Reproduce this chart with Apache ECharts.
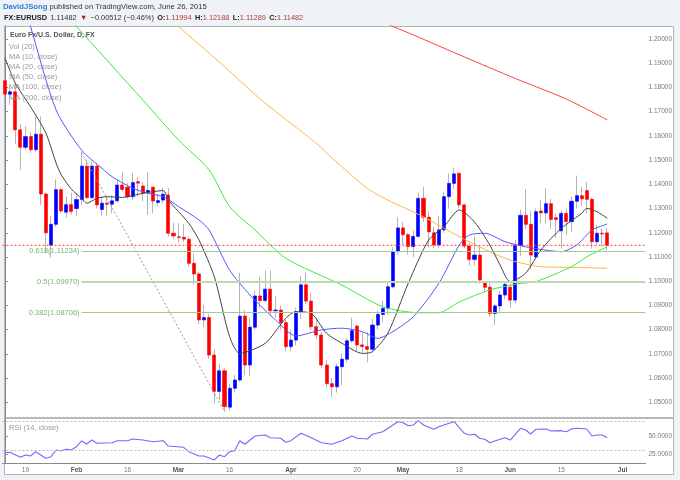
<!DOCTYPE html>
<html><head><meta charset="utf-8">
<script src="https://cdn.jsdelivr.net/npm/echarts@6/dist/echarts.min.js"></script>
<style>html,body{margin:0;padding:0;background:#eff2f6}#c{width:680px;height:480px}</style>
</head><body><div id="c"></div>
<script>
// ---- categories (trading days) ----
const dates = [
 'Jan 13','Jan 14','Jan 15','Jan 16','Jan 19','Jan 20','Jan 21','Jan 22','Jan 23','Jan 26','Jan 27','Jan 28','Jan 29','Jan 30',
 'Feb 2','Feb 3','Feb 4','Feb 5','Feb 6','Feb 9','Feb 10','Feb 11','Feb 12','Feb 13','Feb 16','Feb 17','Feb 18','Feb 19','Feb 20','Feb 23','Feb 24','Feb 25','Feb 26','Feb 27',
 'Mar 2','Mar 3','Mar 4','Mar 5','Mar 6','Mar 9','Mar 10','Mar 11','Mar 12','Mar 13','Mar 16','Mar 17','Mar 18','Mar 19','Mar 20','Mar 23','Mar 24','Mar 25','Mar 26','Mar 27','Mar 30','Mar 31',
 'Apr 1','Apr 2','Apr 3','Apr 6','Apr 7','Apr 8','Apr 9','Apr 10','Apr 13','Apr 14','Apr 15','Apr 16','Apr 17','Apr 20','Apr 21','Apr 22','Apr 23','Apr 24','Apr 27','Apr 28','Apr 29','Apr 30',
 'May 1','May 4','May 5','May 6','May 7','May 8','May 11','May 12','May 13','May 14','May 15','May 18','May 19','May 20','May 21','May 22','May 25','May 26','May 27','May 28','May 29',
 'Jun 1','Jun 2','Jun 3','Jun 4','Jun 5','Jun 8','Jun 9','Jun 10','Jun 11','Jun 12','Jun 15','Jun 16','Jun 17','Jun 18','Jun 19','Jun 22','Jun 23','Jun 24','Jun 25','Jun 26',
 'Jun 29','Jun 30','Jul 1','Jul 2','Jul 3','Jul 6','Jul 7'
];
const tickDates = ['Jan 19','Feb 2','Feb 16','Mar 2','Mar 16','Apr 1','Apr 20','May 1','May 18','Jun 1','Jun 15','Jul 1'];
const tickTexts = ['19','Feb','16','Mar','16','Apr','20','May','18','Jun','15','Jul'];
const priceTicks = [1.05,1.06,1.07,1.08,1.09,1.10,1.11,1.12,1.13,1.14,1.15,1.16,1.17,1.18,1.19,1.20];
const rsiTicks = [25,50];

// ---- OHLC ----
const opens = [
 1.1828,1.1772,1.1782,1.1625,1.1553,1.1597,1.1543,1.1607,1.1360,1.1149,
 1.1235,1.1378,1.1285,1.1316,1.1300,1.1337,1.1475,1.1345,1.1475,1.1296,
 1.1322,1.1318,1.1332,1.1397,1.1388,1.1349,1.1411,1.1393,1.1368,1.1388,
 1.1325,1.1335,1.1356,1.1198,1.1183,1.1181,1.1173,1.1074,1.1030,1.0840,
 1.0850,1.0695,1.0545,1.0630,1.0480,1.0558,1.0592,1.0856,1.0654,1.0810,
 1.0939,1.0920,1.0967,1.0878,1.0881,1.0829,1.0730,1.0757,1.0874,1.0985,
 1.0918,1.0812,1.0778,1.0654,1.0577,1.0564,1.0647,1.0678,1.0754,1.0815,
 1.0737,1.0730,1.0719,1.0819,1.0863,1.0888,1.0977,1.1122,1.1220,1.1192,
 1.1143,1.1185,1.1342,1.1264,1.1200,1.1150,1.1212,1.1349,1.1404,1.1445,
 1.1315,1.1145,1.1090,1.1108,1.0998,1.0975,1.0867,1.0898,1.0943,1.0975,
 1.0922,1.1148,1.1272,1.1235,1.1100,1.1290,1.1282,1.1320,1.1262,1.1208,
 1.1280,1.1246,1.1330,1.1353,1.1374,1.1338,1.1163,1.1198,1.11994];
const highs = [
 1.1858,1.1808,1.1818,1.1650,1.1640,1.1615,1.1680,1.1680,1.1365,1.1270,
 1.1420,1.1388,1.1350,1.1365,1.1365,1.1533,1.1500,1.1497,1.1487,1.1350,
 1.1350,1.1355,1.1421,1.1450,1.1405,1.1448,1.1430,1.1410,1.1450,1.1390,
 1.1360,1.1385,1.1385,1.1240,1.1240,1.1235,1.1185,1.1114,1.1040,1.0902,
 1.0865,1.0720,1.0660,1.0640,1.0578,1.0612,1.1035,1.0880,1.0850,1.0960,
 1.1019,1.1043,1.1043,1.0940,1.0900,1.0840,1.0800,1.0890,1.1021,1.1035,
 1.0950,1.0850,1.0790,1.0675,1.0600,1.0660,1.0700,1.0765,1.0850,1.0820,
 1.0790,1.0790,1.0845,1.0880,1.0920,1.0995,1.1140,1.1265,1.1245,1.1200,
 1.1210,1.1365,1.1390,1.1290,1.1225,1.1270,1.1370,1.1445,1.1467,1.1450,
 1.1320,1.1160,1.1185,1.1145,1.1000,1.0990,1.0905,1.0960,1.0995,1.0990,
 1.1170,1.1295,1.1380,1.1290,1.1300,1.1335,1.1385,1.1340,1.1280,1.1290,
 1.1300,1.1350,1.1436,1.1390,1.1410,1.1345,1.1232,1.1218,1.12188];
const lows = [
 1.1745,1.1728,1.1567,1.1460,1.1540,1.1530,1.1535,1.1315,1.1115,1.1097,
 1.1225,1.1280,1.1262,1.1275,1.1270,1.1315,1.1340,1.1340,1.1300,1.1270,
 1.1270,1.1280,1.1325,1.1370,1.1340,1.1335,1.1350,1.1330,1.1275,1.1280,
 1.1310,1.1320,1.1185,1.1175,1.1160,1.1160,1.1060,1.0987,1.0822,1.0810,
 1.0680,1.0495,1.0510,1.0461,1.0466,1.0540,1.0585,1.0612,1.0610,1.0800,
 1.0890,1.0915,1.0855,1.0850,1.0800,1.0710,1.0710,1.0735,1.0845,1.0905,
 1.0800,1.0760,1.0640,1.0560,1.0521,1.0540,1.0570,1.0665,1.0745,1.0710,
 1.0705,1.0665,1.0705,1.0800,1.0830,1.0860,1.0970,1.1110,1.1150,1.1110,
 1.1100,1.1180,1.1245,1.1140,1.1135,1.1135,1.1200,1.1300,1.1380,1.1300,
 1.1135,1.1065,1.1065,1.0990,1.0955,1.0855,1.0819,1.0870,1.0925,1.0890,
 1.0910,1.1105,1.1215,1.1050,1.1090,1.1240,1.1240,1.1215,1.1180,1.1135,
 1.1190,1.1205,1.1300,1.1310,1.1280,1.1135,1.1150,1.1142,1.11289];
const closes = [
 1.1772,1.1782,1.1625,1.1553,1.1597,1.1543,1.1607,1.1360,1.1200,1.1235,
 1.1378,1.1290,1.1316,1.1288,1.1337,1.1475,1.1345,1.1475,1.1315,1.1322,
 1.1318,1.1332,1.1397,1.1379,1.1349,1.1407,1.1405,1.1363,1.1375,1.1331,
 1.1333,1.1359,1.1198,1.1187,1.1181,1.1174,1.1074,1.1030,1.0840,1.0850,
 1.0695,1.0545,1.0630,1.0482,1.0558,1.0592,1.0856,1.0654,1.0810,1.0939,
 1.0920,1.0967,1.0878,1.0881,1.0829,1.0730,1.0757,1.0874,1.0985,1.0918,
 1.0812,1.0778,1.0654,1.0577,1.0564,1.0647,1.0678,1.0754,1.0796,1.0737,
 1.0730,1.0719,1.0819,1.0863,1.0888,1.0977,1.1122,1.1220,1.1192,1.1143,
 1.1185,1.1342,1.1264,1.1204,1.1150,1.1212,1.1349,1.1404,1.1443,1.1315,
 1.1145,1.1090,1.1108,1.1005,1.0975,1.0867,1.0898,1.0943,1.0987,1.0922,
 1.1148,1.1272,1.1235,1.1108,1.1287,1.1282,1.1320,1.1255,1.1255,1.1280,
 1.1246,1.1330,1.1353,1.1340,1.1338,1.1163,1.1198,1.1195,1.11482];

// ---- moving averages: [day index, value] ----
const ma10 = [[0,1.1922],[2,1.1818],[5,1.1720],[8,1.1612],[10,1.1488],[11,1.1440],[13,1.1380],[15,1.1342],[16,1.1322],[18,1.1342],[20,1.1349],[23,1.1346],[27,1.1363],[31,1.1374],[32,1.1335],[36,1.1239],[38,1.1170],[41,1.1019],[44,1.0771],[46,1.0702],[51,1.0744],[55,1.0847],[57,1.0874],[60,1.0867],[63,1.0785],[66,1.0744],[70,1.0702],[72,1.0709],[75,1.0785],[79,1.0991],[83,1.1170],[86,1.1225],[89,1.1294],[92,1.1244],[95,1.1149],[97,1.1067],[99,1.0998],[102,1.1033],[105,1.1129],[109,1.1218],[113,1.1280],[114,1.1301],[116,1.1287],[118,1.1260]];
const ma20 = [[4,1.2125],[5,1.2051],[10,1.1707],[15,1.1541],[19,1.1466],[21,1.1431],[25,1.1384],[28,1.1363],[31,1.1349],[34,1.1308],[38,1.1253],[40,1.1211],[44,1.1046],[48,1.0943],[53,1.0840],[57,1.0774],[62,1.0799],[66,1.0806],[70,1.0792],[73,1.0764],[76,1.0792],[80,1.0853],[85,1.0991],[89,1.1149],[91,1.1191],[94,1.1198],[98,1.1163],[102,1.1142],[109,1.1122],[112,1.1149],[115,1.1211],[118,1.1236]];
const ma50 = [[12,1.2093],[14,1.2051],[27,1.1748],[34,1.1583],[40,1.1459],[44,1.1308],[49,1.1211],[55,1.1095],[66,1.0984],[74,1.0895],[81,1.0870],[85,1.0870],[89,1.0914],[95,1.0964],[101,1.0991],[104,1.0998],[111,1.1060],[114,1.1101],[118,1.1142]];
const ma100 = [[32,1.2094],[34,1.2051],[42,1.1905],[50,1.1752],[56,1.1652],[61,1.1569],[64,1.1510],[71,1.1383],[75,1.1335],[82,1.1266],[89,1.1184],[93,1.1141],[99,1.1087],[105,1.1060],[112,1.1057],[118,1.1053]];
const ma200 = [[72,1.2091],[76,1.2052],[80,1.2017],[90,1.1926],[100,1.1837],[110,1.1752],[118,1.1666]];

// ---- RSI(14) ----
const rsi = [[0,26.8],[1,27.4],[3,20.4],[4,23.6],[5,22.2],[6,28.2],[8,19.0],[9,21.3],[10,30.6],[11,29.6],[12,31.5],[13,30.6],[14,35.1],[15,43.1],[16,38.9],[17,44.4],[18,39.9],[21,40.7],[22,43.5],[24,43.5],[25,45.8],[27,44.4],[29,42.1],[31,43.5],[32,36.1],[35,34.3],[36,28.2],[38,22.2],[39,22.2],[41,16.7],[42,23.6],[43,21.3],[44,28.2],[45,29.6],[46,43.5],[47,38.5],[49,50],[51,51.4],[52,47.6],[54,46.8],[55,41.3],[56,43.5],[58,53.8],[60,47.6],[62,40.7],[64,38.5],[66,43.5],[68,50],[69,46.8],[71,45.8],[72,52.4],[74,56],[77,69.9],[78,68.5],[79,64.3],[80,65.3],[81,71.3],[82,65.3],[84,59.3],[85,62.9],[87,67.6],[88,69.9],[90,53.8],[91,51.4],[92,52.4],[93,46.8],[94,45.4],[95,40.7],[97,45.4],[98,47.6],[99,44.4],[101,60.7],[102,58.3],[103,52.8],[104,59.3],[106,59.7],[107,56.9],[109,57.4],[110,56],[111,59.7],[112,60.7],[114,59.7],[115,50],[116,51.4],[117,51.4],[118,47.6]];

// ---- Fibonacci drawing ----
const fibLevels = ['0.618','0.5','0.382'];
const fibPrices = [1.11234, 1.09970, 1.08706];
const fibStart = 15, fibHigh = 1.15326, fibEnd = 43, fibLow = 1.04614;
const lastPrice = 1.11482;

const legendLines = ['Vol (20)','MA (10, close)','MA (20, close)','MA (50, close)','MA (100, close)','MA (200, close)'];

// -----------------------------------------------------------------
const FONT = '"Liberation Sans", "DejaVu Sans", Arial, sans-serif';
const N = dates.length;
const full = opens.map((o,i)=>[o, closes[i], lows[i], highs[i]]);
const body = opens.map((o,i)=>[o, closes[i], Math.min(o,closes[i]), Math.max(o,closes[i])]);
const tickMap = {};
tickDates.forEach((d,k)=>{ tickMap[dates.indexOf(d)] = tickTexts[k]; });

function maSeries(data, color){
  return {type:'line', xAxisIndex:2, yAxisIndex:0, data, symbol:'none', smooth:0.25,
    lineStyle:{color, width:1}, z:4, silent:true, clip:true};
}
const fibLines = fibPrices.map((p,k)=>[
  {coord:[fibStart,p], label:{show:true, position:'start', distance:2, formatter: fibLevels[k]+'('+p.toFixed(5)+')',
    color:'#7db46c', fontSize:7.5, fontFamily:FONT},
   lineStyle:{color: k===1 ? '#bddcab' : '#9fcb8a', width: k===1 ? 2 : 1, type:'solid'}},
  {coord:[N-0.5,p]}
]);
fibLines.push([
  {coord:[fibStart,fibHigh], label:{show:false}, lineStyle:{color:'#9a9a9a', width:1, type:[2,2]}},
  {coord:[fibEnd,fibLow]}
]);

const graphics = [
  {type:'rect', z:-10, shape:{x:4.5,y:26.5,width:669,height:448}, style:{fill:'#ffffff', stroke:'#b4b4b4', lineWidth:1}},
  {type:'line', z:100, shape:{x1:4,y1:418,x2:673,y2:418}, style:{stroke:'#a0a0a0', lineWidth:1.5}},
  {type:'text', z:100, x:3, y:7, style:{text:'{a|DavidJSong}{b| published on TradingView.com, June 26, 2015}', verticalAlign:'middle',
     rich:{a:{fill:'#2f7fd1', fontWeight:'bold', fontSize:7.7, fontFamily:FONT}, b:{fill:'#333', fontSize:7.7, fontFamily:FONT}}}},
  {type:'text', z:100, x:4, y:18, style:{text:'{k|FX:EURUSD} {n|1.11482} {r|▼} {n|\u22120.00512 (\u22120.46%)} {k|O:}{v|1.11994} {k|H:}{v|1.12188} {k|L:}{v|1.11289} {k|C:}{v|1.11482}', verticalAlign:'middle',
     rich:{k:{fill:'#222', fontWeight:'bold', fontSize:7.4, fontFamily:FONT}, n:{fill:'#333', fontSize:7.4, fontFamily:FONT},
           r:{fill:'#b02020', fontSize:7.4, fontFamily:FONT}, v:{fill:'#b03a3a', fontSize:7.4, fontFamily:FONT}}}},
  {type:'text', z:100, x:10, y:35.5, style:{text:'Euro Fx/U.S. Dollar, D, FX', fill:'#555', fontWeight:'bold', fontSize:7, fontFamily:FONT, verticalAlign:'middle'}},
  {type:'text', z:100, x:9, y:427.7, style:{text:'RSI (14, close)', fill:'#999', fontSize:7.5, fontFamily:FONT, verticalAlign:'middle'}}
];
legendLines.forEach((t,k)=>graphics.push({type:'text', z:100, x:9, y:46.5+k*10.2,
  style:{text:t, fill:'#9a9a9a', fontSize:7.5, fontFamily:FONT, verticalAlign:'middle'}}));

const option = {
  animation:false,
  backgroundColor:'#eff2f6',
  textStyle:{fontFamily:FONT},
  grid:[
    {left:2.5, top:26, width:643, height:392},
    {left:2.5, top:418, width:643, height:45}
  ],
  xAxis:[
    {type:'category', gridIndex:0, data:dates, boundaryGap:true, show:false},
    {type:'category', gridIndex:1, data:dates, boundaryGap:true,
      axisLine:{show:true, lineStyle:{color:'#8a8a8a', width:1}}, axisTick:{show:false}, splitLine:{show:false},
      axisLabel:{interval:(i)=>tickMap[i]!==undefined, margin:4,
        formatter:(v,i)=>{const t=tickMap[i]; return /^\d/.test(t) ? '{d|'+t+'}' : '{m|'+t+'}';},
        rich:{d:{fontSize:6.5, color:'#777', fontFamily:FONT}, m:{fontSize:6.5, color:'#555', fontWeight:'bold', fontFamily:FONT}}}},
    {type:'value', gridIndex:0, min:-0.5, max:N-0.5, show:false},
    {type:'value', gridIndex:1, min:-0.5, max:N-0.5, show:false}
  ],
  yAxis:[
    {type:'value', gridIndex:0, position:'right', min:1.04352, max:1.20537, splitLine:{show:false},
      axisLine:{show:true, lineStyle:{color:'#8a8a8a'}},
      axisTick:{show:true, length:3, customValues:priceTicks, lineStyle:{color:'#8a8a8a'}},
      axisLabel:{customValues:priceTicks, formatter:(v)=>v.toFixed(5), fontSize:6.5, color:'#777', margin:3}},
    {type:'value', gridIndex:1, position:'right', min:12.5, max:75, splitLine:{show:false},
      axisLine:{show:true, lineStyle:{color:'#8a8a8a'}},
      axisTick:{show:true, length:3, customValues:rsiTicks, lineStyle:{color:'#8a8a8a'}},
      axisLabel:{customValues:rsiTicks, formatter:(v)=>v.toFixed(4), fontSize:6.5, color:'#777', margin:3}}
  ],
  graphic:graphics,
  series:[
    {type:'candlestick', name:'wick', xAxisIndex:0, yAxisIndex:0, data:full, barWidth:1.5, silent:true, z:2,
      itemStyle:{color:'#b4b4b4', color0:'#b4b4b4', borderColor:'#b4b4b4', borderColor0:'#b4b4b4', borderWidth:1}},
    {type:'candlestick', name:'body', xAxisIndex:0, yAxisIndex:0, data:body, barWidth:3.6, silent:true, z:3,
      itemStyle:{color:'#0000ff', color0:'#ff0000', borderColor:'#0000ff', borderColor0:'#ff0000', borderWidth:0.6}},
    maSeries(ma200,'#ff4040'),
    maSeries(ma100,'#ffb347'),
    maSeries(ma50,'#3ee83e'),
    maSeries(ma20,'#5555ff'),
    maSeries(ma10,'#444444'),
    {type:'line', xAxisIndex:2, yAxisIndex:0, data:[], silent:true, z:3,
      markLine:{silent:true, symbol:['none','none'], precision:5, data:fibLines}},
    {type:'line', name:'last', xAxisIndex:2, yAxisIndex:0, data:[[-0.5,lastPrice],[N-0.5,lastPrice]],
      symbol:'none', silent:true, z:5, color:'#ff3b3b',
      lineStyle:{color:'#ff3b3b', type:[2,2], width:1},
      markLine:{silent:true, symbol:['none','none'], precision:5,
        lineStyle:{color:'#ff3b3b', opacity:0, width:1},
        label:{show:true, position:'end', distance:1, formatter:lastPrice.toFixed(5), color:'#ffffff',
          backgroundColor:'#ff0000', padding:[2,2,1,2], fontSize:6.5, fontFamily:FONT},
        data:[{yAxis:lastPrice}]}},
    {type:'line', xAxisIndex:3, yAxisIndex:1, data:rsi, symbol:'none', lineStyle:{color:'#6b6bff', width:1.1}, silent:true, z:4,
      markLine:{silent:true, symbol:['none','none'], label:{show:false},
        data:[{yAxis:70},{yAxis:30}], lineStyle:{color:'#bbbbbb', type:[2,2], width:1}}}
  ]
};
const chart = echarts.init(document.getElementById('c'));
chart.setOption(option);
</script></body></html>
